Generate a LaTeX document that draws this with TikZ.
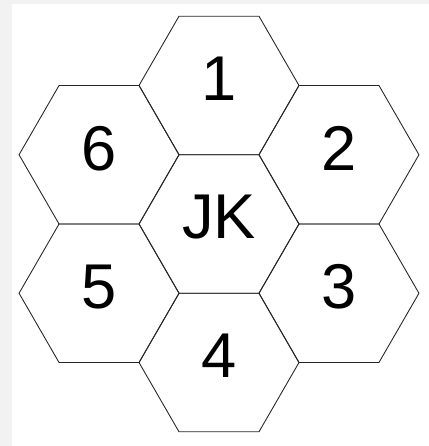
\documentclass[tikz,border=0pt]{standalone}
\usepackage{fontspec}
\setmainfont{Liberation Sans}
\usetikzlibrary{shapes.geometric,calc}
\tikzset{hexcell/.style={regular polygon, regular polygon sides=6, draw=black!85,
        line width=0.5pt, minimum size=3.2cm, inner sep=0pt, outer sep=0pt},
    hexlabel/.style={font=\fontsize{36}{40}\selectfont, inner sep=0pt, yshift=0.13cm}}

\begin{document}
\begin{tikzpicture}

        \fill[black!5] (0,0) rectangle (8.58,8.92);
        \fill[white] (0.24,0) rectangle (8.58,8.84);
        \useasboundingbox (0,0) rectangle (8.58,8.92);

        \node[hexcell] (jk) at (4.38,4.44) {};
        \node[hexlabel] (tjk) at (jk.center) {JK};

        \foreach \lab/\ang in {1/90, 2/30, 3/-30, 4/-90, 5/-150, 6/150} {
            \node[hexcell] (h\lab) at ($(jk)+(\ang:2.77)$) {};
            \node[hexlabel] (t\lab) at (h\lab.center) {\lab};
        }

    \end{tikzpicture}
\end{document}
